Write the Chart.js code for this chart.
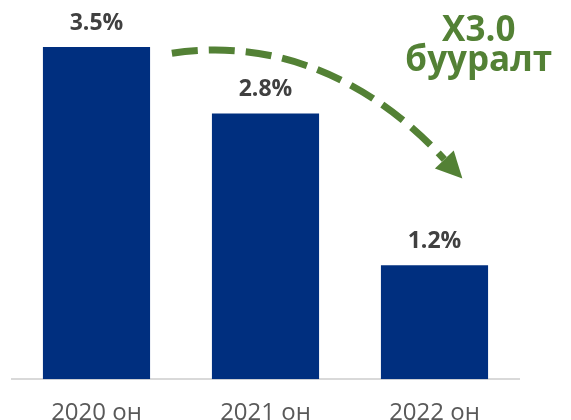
<!DOCTYPE html>
<html>
<head>
<meta charset="utf-8">
<script src="https://cdn.jsdelivr.net/npm/chart.js@4"></script>
<style>
html,body{margin:0;padding:0;background:#fff;}
#wrap{width:571px;height:420px;position:relative;}
</style>
</head>
<body>
<div id="wrap"><canvas id="c" width="571" height="420"></canvas></div>
<script>
// ---- data ----
const categories = ["2020 он", "2021 он", "2022 он"];
const values = [3.5, 2.8, 1.2];
const valueLabels = ["3.5%", "2.8%", "1.2%"];
const noteLines = ["X3.0", "бууралт"];

// ---- annotation geometry (data units: category index, value) ----
const arrowPath = [[0.446, 3.434], [1.145, 3.623], [1.702, 3.011], [2.058, 2.315]];
const arrowTip = [2.165, 2.115];
const noteAnchor = [2.262, 3.56, 3.25]; // x index, baseline values of two lines

const NAVY = "#002f7f";
const GREEN = "#538135";

const labelPlugin = {
  id: "labels",
  afterDatasetsDraw(chart) {
    const ctx = chart.ctx;
    const meta = chart.getDatasetMeta(0);
    const xs = chart.scales.x, ys = chart.scales.y;
    ctx.save();
    // value labels
    ctx.fillStyle = "#404040";
    ctx.font = "bold 23px 'Open Sans', sans-serif";
    ctx.textAlign = "center";
    ctx.textBaseline = "alphabetic";
    meta.data.forEach((bar, i) => {
      ctx.fillText(valueLabels[i], bar.x, bar.y - 17);
    });
    // dashed arrow
    const P = arrowPath.map(p => [xs.getPixelForValue(p[0]), ys.getPixelForValue(p[1])]);
    ctx.strokeStyle = GREEN;
    ctx.lineWidth = 7;
    ctx.setLineDash([26, 11]);
    ctx.beginPath();
    ctx.moveTo(P[0][0], P[0][1]);
    ctx.bezierCurveTo(P[1][0], P[1][1], P[2][0], P[2][1], P[3][0], P[3][1]);
    ctx.stroke();
    ctx.setLineDash([]);
    const tx = xs.getPixelForValue(arrowTip[0]), ty = ys.getPixelForValue(arrowTip[1]);
    const bx = P[3][0], by = P[3][1];
    let dx = tx - bx, dy = ty - by;
    const len = Math.hypot(dx, dy);
    const nx = -dy / len, ny = dx / len;
    const hw = 13;
    ctx.fillStyle = GREEN;
    ctx.beginPath();
    ctx.moveTo(tx, ty);
    ctx.lineTo(bx + nx * hw, by + ny * hw);
    ctx.lineTo(bx - nx * hw, by - ny * hw);
    ctx.closePath();
    ctx.fill();
    // note text
    ctx.fillStyle = GREEN;
    ctx.font = "bold 35px 'Open Sans', sans-serif";
    ctx.textAlign = "center";
    const nxp = xs.getPixelForValue(noteAnchor[0]);
    ctx.fillText(noteLines[0], nxp, ys.getPixelForValue(noteAnchor[1]));
    ctx.fillText(noteLines[1], nxp, ys.getPixelForValue(noteAnchor[2]));
    ctx.restore();
  }
};

new Chart(document.getElementById("c"), {
  type: "bar",
  data: {
    labels: categories,
    datasets: [{
      data: values,
      backgroundColor: NAVY,
      categoryPercentage: 1,
      barPercentage: 0.634
    }]
  },
  options: {
    responsive: false,
    animation: false,
    layout: { padding: { left: 12, right: 52, top: 9, bottom: -20 } },
    plugins: { legend: { display: false }, tooltip: { enabled: false } },
    scales: {
      x: {
        grid: { display: false },
        border: { display: true, color: "#d9d9d9", width: 2 },
        ticks: { color: "#595959", font: { family: "'Open Sans', sans-serif", size: 24 }, padding: 12 }
      },
      y: { display: false, min: 0, max: 3.9 }
    }
  },
  plugins: [labelPlugin]
});
</script>
</body>
</html>
